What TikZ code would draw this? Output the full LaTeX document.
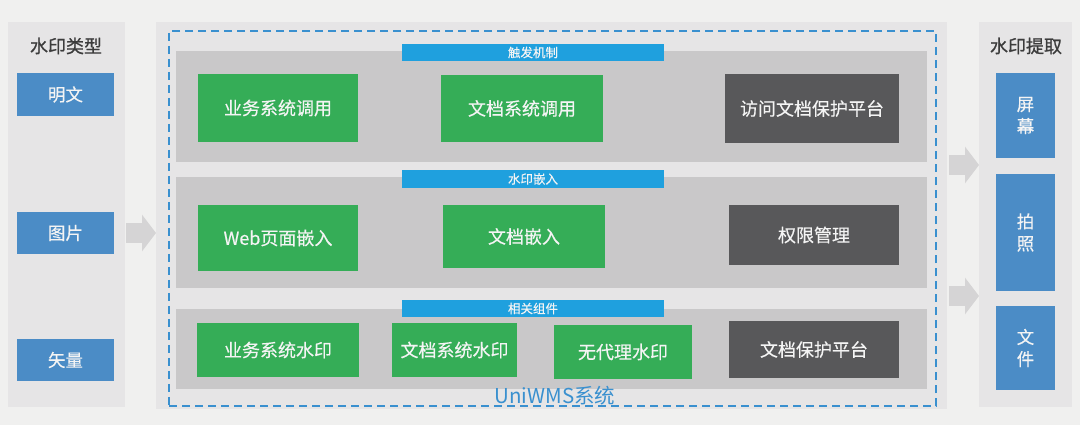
\documentclass[tikz,border=0pt]{standalone}
\usepackage{fontspec}
\setmainfont{Noto Sans CJK SC}
\newfontfamily\semifont{Noto Sans CJK SC}[FakeBold=0.35]
\newfontfamily\medfont{Noto Sans CJK SC}[FakeBold=0.9]
\usetikzlibrary{arrows.meta}
\definecolor{bgc}{HTML}{F0F0EF}
\definecolor{panelc}{HTML}{E6E5E6}
\definecolor{bandc}{HTML}{C9C8C9}
\definecolor{greenc}{HTML}{35AD57}
\definecolor{darkc}{HTML}{58585A}
\definecolor{boxblue}{HTML}{4B8CC6}
\definecolor{barblue}{HTML}{1FA0DE}
\definecolor{dashblue}{HTML}{3A90CF}
\definecolor{titlec}{HTML}{3C3C3C}
\definecolor{arrowc}{HTML}{D5D4D5}
\definecolor{txtc}{HTML}{F4F4F4}
\newcommand\rbox[7]{\node[#6, minimum width={(#4-#2)*1pt}, minimum height={(#5-#3)*1pt}] (#1) at ({(#2+#4)/2},{(#3+#5)/2}) {#7};}
\tikzset{
  base/.style={inner sep=0pt, outer sep=0pt, anchor=center, align=center},
  panel/.style={base, fill=panelc},
  band/.style={base, fill=bandc},
  gbox/.style={base, fill=greenc, text=txtc, font=\semifont\fontsize{18}{20}\selectfont},
  dbox/.style={base, fill=darkc, text=txtc, font=\semifont\fontsize{18}{20}\selectfont},
  bbox/.style={base, fill=boxblue, text=txtc, font=\semifont\fontsize{17.5}{22}\selectfont},
  bar/.style={base, fill=barblue, text=txtc, font=\semifont\fontsize{12.5}{14}\selectfont},
  dashframe/.style={base, draw=dashblue, line width=2.8pt, dash pattern=on 8pt off 5pt},
  title/.style={text=titlec, font=\medfont\fontsize{18}{20}\selectfont},
  bigarrow/.style={draw=arrowc, line width=20pt, -{Triangle[length=14pt,width=36pt]}},
}
\begin{document}
\begin{tikzpicture}[x=1pt,y=-1pt]
\fill[bgc] (0,0) rectangle (1080,425);
\useasboundingbox (0,0) rectangle (1080,425);
% panels
\rbox{lp}{8}{22}{125}{407}{panel}{}
\rbox{cp}{156}{22}{947}{409}{panel}{}
\rbox{rp}{979}{22}{1072}{407}{panel}{}
% left panel
\node[title] (lt) at (66,46) {水印类型};
\rbox{mw}{17}{73}{114}{116}{bbox}{明文}
\rbox{tp}{17}{212}{114}{254}{bbox}{图片}
\rbox{sl}{17}{339}{114}{381}{bbox}{矢量}
% right panel
\node[title] (rt) at (1026,46) {水印提取};
\rbox{pm}{996}{73}{1055}{158}{bbox}{屏\\幕}
\rbox{pz}{996}{174}{1055}{291}{bbox}{拍\\照}
\rbox{wj}{996}{306}{1055}{390}{bbox}{文\\件}
% bands
\rbox{b1}{176}{51}{927}{162}{band}{}
\rbox{b2}{176}{177}{927}{288}{band}{}
\rbox{b3}{176}{309}{927}{389}{band}{}
% bars
\rbox{t1}{402}{44}{664}{61}{bar}{触发机制}
\rbox{t2}{402}{170}{664}{188}{bar}{水印嵌入}
\rbox{t3}{402}{300}{664}{317}{bar}{相关组件}
% row 1
\rbox{r11}{198}{74}{358}{142}{gbox}{业务系统调用}
\rbox{r12}{441}{75}{603}{142}{gbox}{文档系统调用}
\rbox{r13}{725}{74}{899}{143}{dbox}{访问文档保护平台}
% row 2
\rbox{r21}{198}{205}{358}{271}{gbox}{Web页面嵌入}
\rbox{r22}{443}{205}{605}{268}{gbox}{文档嵌入}
\rbox{r23}{729}{205}{899}{265}{dbox}{权限管理}
% row 3
\rbox{r31}{197}{323}{359}{377}{gbox}{业务系统水印}
\rbox{r32}{392}{323}{517}{377}{gbox}{文档系统水印}
\rbox{r33}{554}{325}{692}{379}{gbox}{无代理水印}
\rbox{r34}{729}{321}{899}{378}{dbox}{文档保护平台}
% dashed frame
\rbox{df}{169}{31}{936}{406}{dashframe}{}
\node[text=dashblue, font=\fontsize{20.5}{22}\selectfont, inner sep=0pt] (uni) at (555,396) {UniWMS系统};
% arrows
\coordinate (a1s) at (126,233);
\coordinate (a1e) at (156,233);
\draw[bigarrow] (a1s) -- (a1e);
\coordinate (a2s) at (949,165);
\coordinate (a2e) at (979,165);
\draw[bigarrow] (a2s) -- (a2e);
\coordinate (a3s) at (949,296);
\coordinate (a3e) at (979,296);
\draw[bigarrow] (a3s) -- (a3e);
\end{tikzpicture}
\end{document}
